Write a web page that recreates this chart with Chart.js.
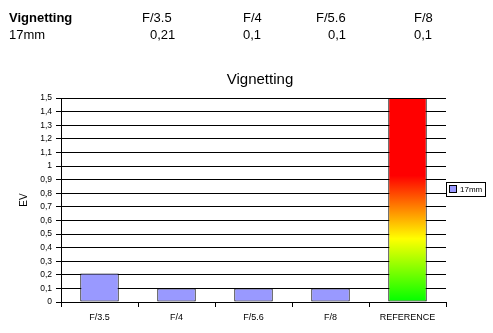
<!DOCTYPE html>
<html>
<head>
<meta charset="utf-8">
<script src="https://cdn.jsdelivr.net/npm/chart.js@4/dist/chart.umd.min.js"></script>
<style>
  body { margin: 0; background: #fff; overflow: hidden; }
  #wrap { position: relative; width: 493px; height: 333px; }
  #chart { position: absolute; left: 0; top: 0; }
  .cell { position: absolute; font-family: "Liberation Sans", Arial, sans-serif;
          font-size: 13px; line-height: 15px; color: #000; white-space: nowrap; }
</style>
</head>
<body>
<div id="wrap">
  <canvas id="chart" width="493" height="333"></canvas>
</div>
<script>
// data
const chartTitle = 'Vignetting';
const seriesName = '17mm';
const categories = ['F/3.5', 'F/4', 'F/5.6', 'F/8', 'REFERENCE'];
const values = [0.21, 0.1, 0.1, 0.1, 1.5];
const yMin = 0;
const yMax = 1.5;
const yStep = 0.1;
const axisTitle = 'EV';

// table above the chart (first four apertures)
const headLeft = [142, 243, 316, 414];
const valLeft = [150, 243, 328, 414];

const wrap = document.getElementById('wrap');
function addCell(text, left, top, bold) {
    const d = document.createElement('div');
    d.className = 'cell';
    d.textContent = text;
    d.style.left = left + 'px';
    d.style.top = top + 'px';
    if (bold) d.style.fontWeight = 'bold';
    wrap.appendChild(d);
}
const comma = v => String(v).replace('.', ',');

addCell(chartTitle, 9, 10, true);
addCell(seriesName, 9, 27, false);
for (let i = 0; i < 4; i++) {
    addCell(categories[i], headLeft[i], 10, false);
    addCell(comma(values[i]), valLeft[i], 27, false);
}

const barColor = '#9999FF';
const FONT = '"Liberation Sans", Arial, sans-serif';

function refGradient(context) {
    const chart = context.chart;
    const y = chart.scales.y;
    if (!y || !chart.chartArea) return 'red';
    const g = chart.ctx.createLinearGradient(0, y.getPixelForValue(values[4]), 0, y.getPixelForValue(0));
    g.addColorStop(0, '#FF0000');
    g.addColorStop(0.38, '#FF0000');
    g.addColorStop(0.69, '#FFFF00');
    g.addColorStop(1, '#00FF00');
    return g;
}

// title and boxed legend, drawn like the old spreadsheet chart
const extras = {
    id: 'extras',
    afterDraw(chart) {
        const ctx = chart.ctx;
        ctx.save();
        ctx.fillStyle = '#000';
        ctx.font = '15px ' + FONT;
        ctx.textAlign = 'center';
        ctx.textBaseline = 'alphabetic';
        ctx.fillText(chartTitle, 260, 84);

        ctx.strokeStyle = '#000';
        ctx.lineWidth = 1;
        ctx.fillStyle = '#fff';
        ctx.fillRect(446.5, 182.5, 39, 14);
        ctx.strokeRect(446.5, 182.5, 39, 14);
        ctx.fillStyle = barColor;
        ctx.fillRect(449.5, 185.5, 7, 7);
        ctx.strokeRect(449.5, 185.5, 7, 7);
        ctx.fillStyle = '#000';
        ctx.font = '8px ' + FONT;
        ctx.textAlign = 'left';
        ctx.textBaseline = 'middle';
        ctx.fillText(seriesName, 460, 189.5);
        ctx.restore();
    }
};

new Chart(document.getElementById('chart'), {
    type: 'bar',
    data: {
        labels: categories,
        datasets: [{
            label: seriesName,
            data: values,
            backgroundColor: ctx => ctx.dataIndex === 4 ? refGradient(ctx) : barColor,
            borderColor: '#000',
            borderWidth: 1,
            borderSkipped: false,
            categoryPercentage: 1,
            barPercentage: 0.5
        }]
    },
    options: {
        responsive: false,
        devicePixelRatio: 1,
        animation: false,
        layout: { padding: { left: 0, right: 47, top: 98, bottom: 0 } },
        plugins: {
            legend: { display: false },
            title: { display: false },
            tooltip: { enabled: false }
        },
        scales: {
            x: {
                grid: { display: true, drawOnChartArea: false, drawTicks: true, tickLength: 5, color: '#000', offset: true },
                border: { display: true, color: '#000' },
                ticks: { color: '#000', font: { family: FONT, size: 9 }, padding: 5, maxRotation: 0, autoSkip: false },
                afterFit(scale) { scale.height = 31; }
            },
            y: {
                min: yMin,
                max: yMax,
                ticks: {
                    stepSize: yStep,
                    color: '#000',
                    font: { family: FONT, size: 8.5 },
                    padding: 4,
                    callback: v => comma(Number(v.toFixed(1)))
                },
                grid: { color: '#000', lineWidth: 1, drawTicks: true, tickLength: 5 },
                border: { display: true, color: '#000' },
                title: {
                    display: true,
                    text: axisTitle,
                    color: '#000',
                    font: { family: FONT, size: 10 },
                    padding: { top: 18, bottom: 0 }
                },
                afterFit(scale) { scale.width = 61; }
            }
        }
    },
    plugins: [extras]
});
</script>
</body>
</html>
